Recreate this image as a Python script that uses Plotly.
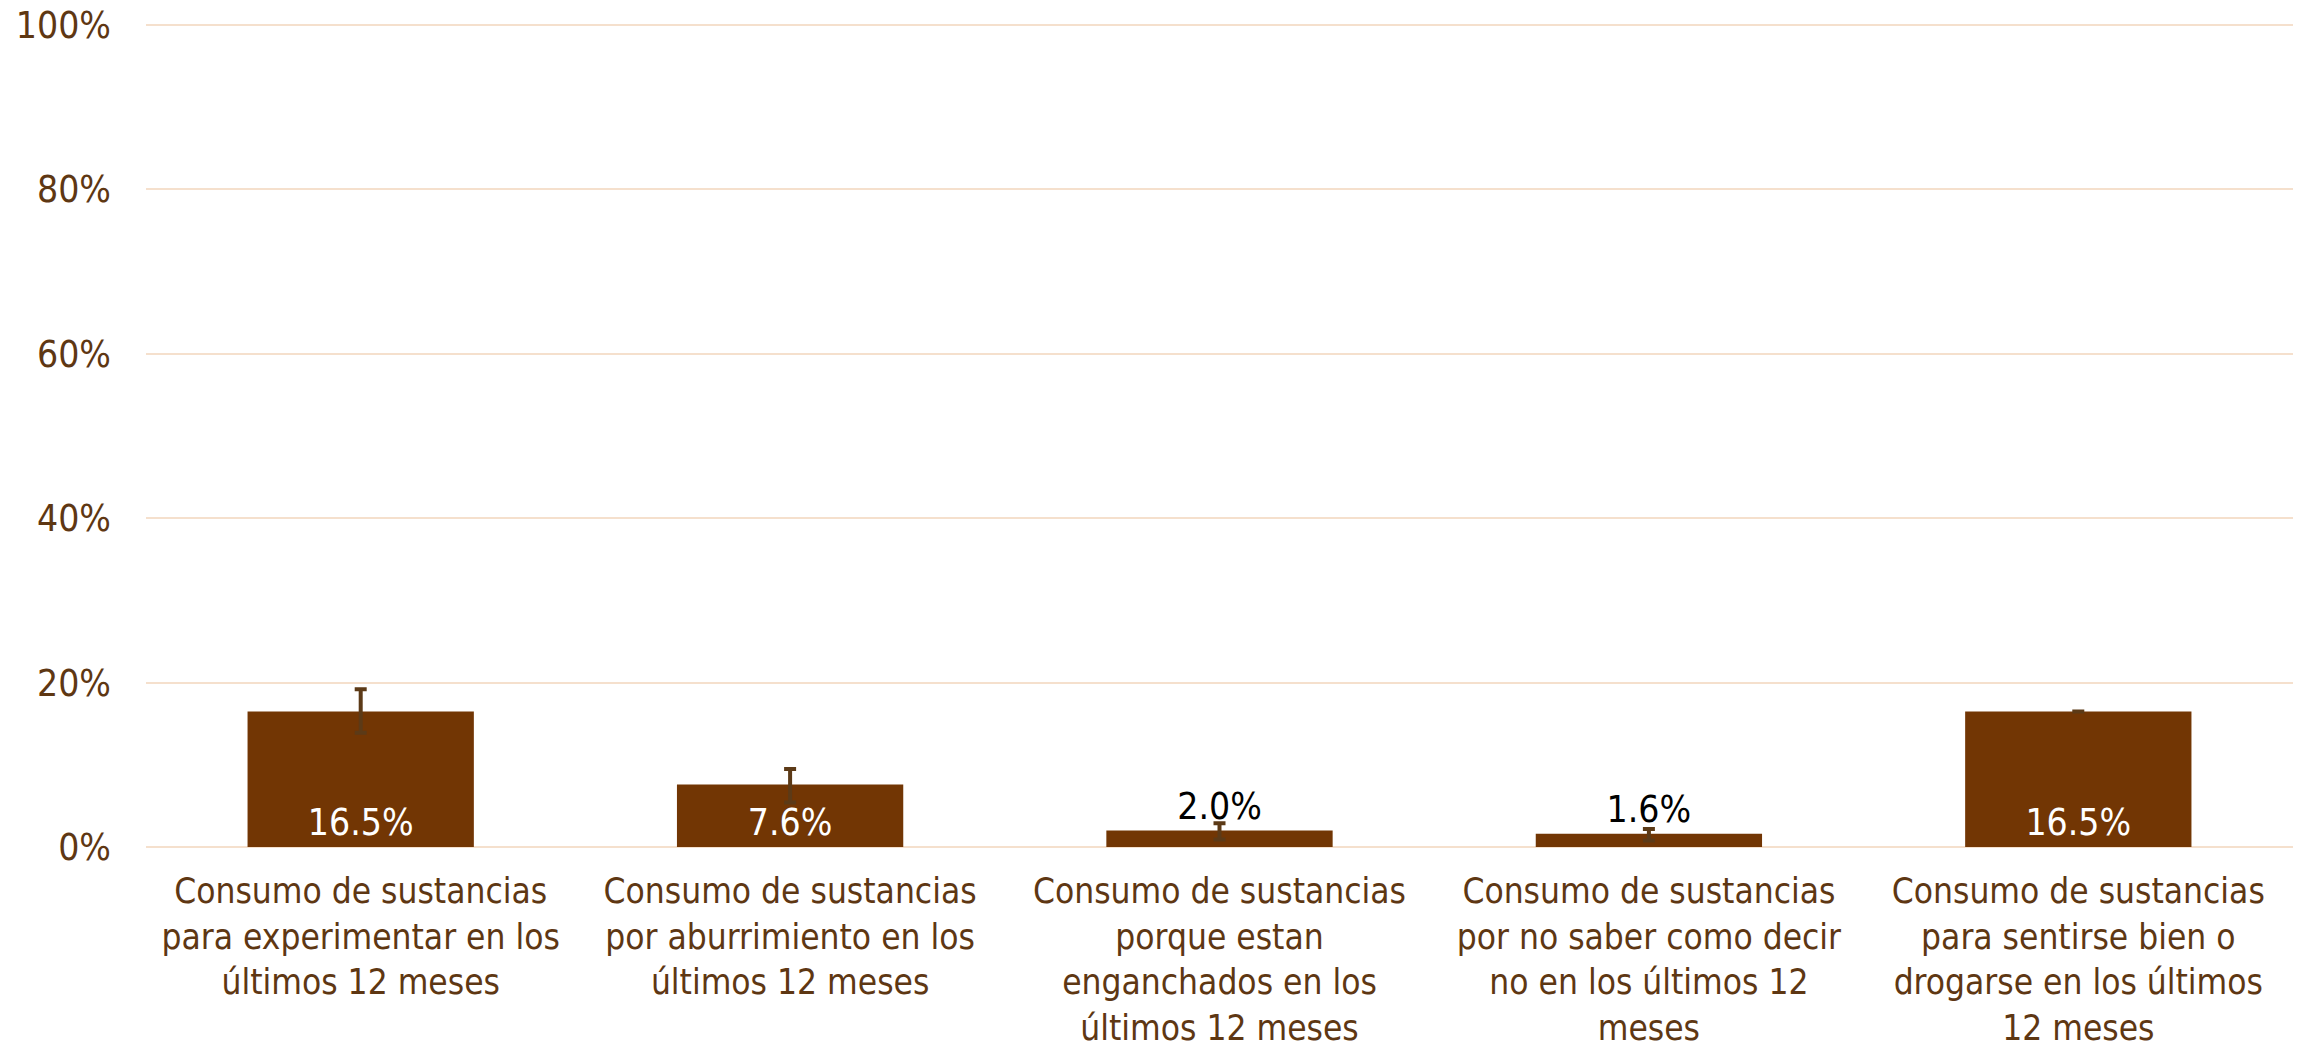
import plotly.graph_objects as go

categories = [
    "Consumo de sustancias<br>para experimentar en los<br>últimos 12 meses",
    "Consumo de sustancias<br>por aburrimiento en los<br>últimos 12 meses",
    "Consumo de sustancias<br>porque estan<br>enganchados en los<br>últimos 12 meses",
    "Consumo de sustancias<br>por no saber como decir<br>no en los últimos 12<br>meses",
    "Consumo de sustancias<br>para sentirse bien o<br>drogarse en los últimos<br>12 meses",
]
values = [16.5, 7.6, 2.0, 1.6, 16.5]
err_plus = [2.7, 1.9, 0.9, 0.6, 0]
err_minus = [2.6, 2.2, 1.1, 0.8, 0]
label_pos = ["inside", "inside", "outside", "outside", "inside"]
tick_vals = [0, 20, 40, 60, 80, 100]
tick_text = ["0%", "20%", "40%", "60%", "80%", "100%"]

FONT = "DejaVu Sans Condensed, DejaVu Sans, sans-serif"
BROWN = "#723604"
TXT = "#5e3713"

fig = go.Figure(go.Bar(
    x=categories,
    y=values,
    marker=dict(color=BROWN, line=dict(width=0)),
    error_y=dict(type="data", symmetric=False, array=err_plus, arrayminus=err_minus,
                 color="#5c3a17", thickness=4, width=6),
    text=[f"{v:.1f}%" for v in values],
    textposition=label_pos,
    insidetextanchor="start",
    outsidetextfont=dict(family=FONT, size=37, color="black"),
    insidetextfont=dict(family=FONT, size=37, color="white"),
    cliponaxis=False,
    hoverinfo="skip",
))

fig.update_layout(
    width=2310, height=1052,
    margin=dict(l=146, r=17, t=23, b=205),
    paper_bgcolor="white", plot_bgcolor="white",
    bargap=0.473,
    showlegend=False,
    xaxis=dict(
        tickfont=dict(family=FONT, size=35, color=TXT),
        showline=False, ticks="", showgrid=False,
        tickangle=0, automargin=False, ticklabelstandoff=20,
        ticklabeloverflow="allow",
    ),
    yaxis=dict(
        range=[0, 100.25],
        tickvals=tick_vals, ticktext=tick_text,
        tickfont=dict(family=FONT, size=37, color=TXT),
        showgrid=True, gridcolor="#f5e0cd", gridwidth=2,
        zeroline=True, zerolinecolor="#f5e0cd", zerolinewidth=2,
        showline=False, ticks="", ticklabelstandoff=34,
        automargin=False, ticklabeloverflow="allow",
    ),
)

fig.write_html(
    "out.html",
    config={"displayModeBar": False},
    post_script="document.body.style.margin='0';document.body.style.overflow='hidden';",
)
